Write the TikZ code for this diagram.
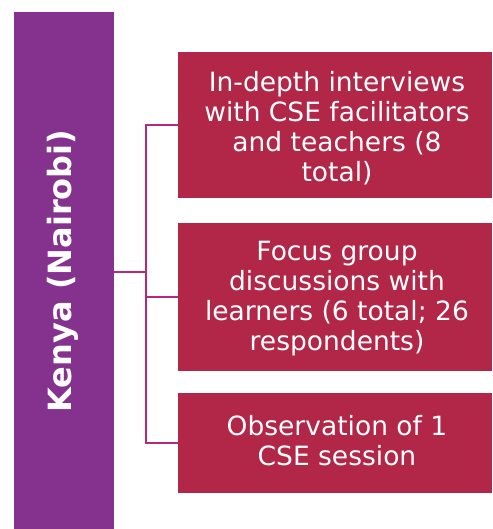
\documentclass[tikz,border=0pt]{standalone}
\usepackage{fontspec}
\setmainfont{DejaVu Sans}
\definecolor{sidebox}{RGB}{132,50,142}
\definecolor{itembox}{RGB}{178,38,72}
\definecolor{linkline}{RGB}{184,40,120}
\tikzset{
  itemnode/.style={fill=itembox, text=white, align=center, inner sep=0pt,
    font=\fontsize{26.5}{30}\selectfont},
  sidenode/.style={fill=sidebox, inner sep=0pt},
  link/.style={draw=linkline, line width=2pt}
}
\begin{document}
\begin{tikzpicture}[x=1pt,y=-1pt]
  \useasboundingbox (0,0) rectangle (492,529);
  % country column
  \node[sidenode, minimum width=100pt, minimum height=517pt] (kenya) at (64,270.5) {};
  \node[rotate=90, text=white, font=\fontsize{32}{36}\bfseries\selectfont] (kenyalabel) at (63,271) {Kenya (Nairobi)};
  % method boxes
  \node[itemnode, minimum width=314pt, minimum height=146pt] (interviews) at (335,125) {};
  \node[text=white, align=center, inner sep=0pt, font=\fontsize{26.5}{30}\selectfont] (interviewstext) at (337,128)
    {In-depth interviews\\with CSE facilitators\\and teachers (8\\total)};
  \node[itemnode, minimum width=314pt, minimum height=148pt] (focus) at (335,297) {};
  \node[text=white, align=center, inner sep=0pt, font=\fontsize{26.5}{30}\selectfont] (focustext) at (337,299)
    {Focus group\\discussions with\\learners (6 total; 26\\respondents)};
  \node[itemnode, minimum width=314pt, minimum height=100pt] (observe) at (335,443) {};
  \node[text=white, align=center, inner sep=0pt, font=\fontsize{26.5}{30}\selectfont] (observetext) at (337,441)
    {Observation of 1\\CSE session};
  % connectors
  \coordinate (trunk) at (146,272);
  \draw[link] (kenya.east |- trunk) -- (trunk);
  \draw[link] (interviews.west) -- (trunk |- interviews.west) -- (trunk |- observe.west) -- (observe.west);
  \draw[link] (trunk |- focus.west) -- (focus.west);
\end{tikzpicture}
\end{document}
